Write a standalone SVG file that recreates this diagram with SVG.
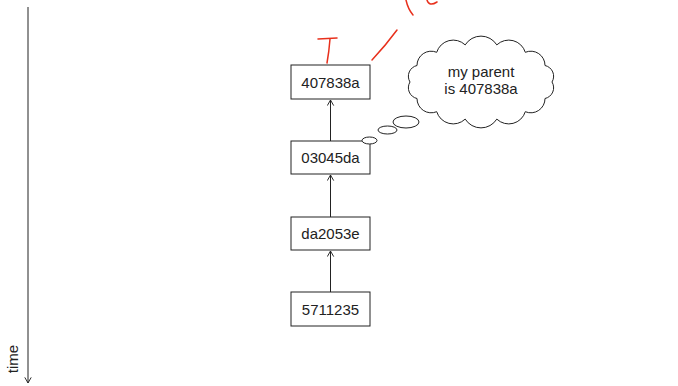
<svg xmlns="http://www.w3.org/2000/svg" width="678" height="386" viewBox="0 0 678 386">
<style>
  .box rect { fill: #fff; stroke: #222; stroke-width: 1; }
  .lbl { font-family: "Liberation Sans", Arial, sans-serif; font-size: 15px; fill: #222; text-anchor: middle; }
  .conn { stroke: #222; stroke-width: 1; fill: none; }
  .red { stroke: #e8301c; stroke-width: 1.5; fill: none; stroke-linecap: round; }
  .thought { fill: #fff; stroke: #222; stroke-width: 1; }
</style>
<defs>
  <marker id="open" viewBox="0 0 10 10" refX="9" refY="5" markerWidth="8" markerHeight="8" markerUnits="userSpaceOnUse" orient="auto">
    <path d="M2,1 L9,5 L2,9" fill="none" stroke="#222" stroke-width="1.2"/>
  </marker>
</defs>
<rect width="678" height="386" fill="#fff"/>

<g id="time-axis">
  <line x1="28" y1="7" x2="28" y2="383" class="conn" stroke="#444" marker-end="url(#open)"/>
  <text class="lbl" transform="translate(18,359) rotate(-90)">time</text>
</g>

<g id="connectors">
  <line x1="330.5" y1="292" x2="330.5" y2="251" class="conn" marker-end="url(#open)"/>
  <line x1="330.5" y1="217" x2="330.5" y2="175" class="conn" marker-end="url(#open)"/>
  <line x1="330.5" y1="141" x2="330.5" y2="100" class="conn" marker-end="url(#open)"/>
</g>

<g id="n407838a" class="box">
  <rect x="291" y="65" width="79" height="34"/>
  <text class="lbl" x="330.5" y="87.5">407838a</text>
</g>
<g id="n03045da" class="box">
  <rect x="291" y="141" width="79" height="33"/>
  <text class="lbl" x="330.5" y="163">03045da</text>
</g>
<g id="nda2053e" class="box">
  <rect x="291" y="217" width="79" height="33"/>
  <text class="lbl" x="330.5" y="239">da2053e</text>
</g>
<g id="n5711235" class="box">
  <rect x="291" y="292" width="79" height="34"/>
  <text class="lbl" x="330.5" y="314.5">5711235</text>
</g>

<g id="thought-bubble">
  <ellipse class="thought" cx="369.5" cy="140.5" rx="7.5" ry="3.5"/>
  <ellipse class="thought" cx="387.5" cy="130" rx="9.5" ry="4"/>
  <ellipse class="thought" cx="406" cy="122" rx="13" ry="6"/>
  <path class="thought" d="M552,82 A11,11 0 0 1 545,98.5 A14.2,14.2 0 0 1 525.3,111.7 A17.3,17.3 0 0 1 496.8,119.1 A18.6,18.6 0 0 1 465.2,119.1 A17.3,17.3 0 0 1 436.7,111.7 A14.2,14.2 0 0 1 417,98.5 A11,11 0 0 1 410,82 A11,11 0 0 1 417,65.5 A14.2,14.2 0 0 1 436.7,52.3 A17.3,17.3 0 0 1 465.2,44.9 A18.6,18.6 0 0 1 496.8,44.9 A17.3,17.3 0 0 1 525.3,52.3 A14.2,14.2 0 0 1 545,65.5 A11,11 0 0 1 552,82 Z"/>
  <text class="lbl" x="481" y="77">my parent</text>
  <text class="lbl" x="481" y="94">is 407838a</text>
</g>

<g id="red-annotations">
  <path class="red" d="M318,39 L337,38"/>
  <path class="red" d="M330,39 Q329,52 327,63"/>
  <path class="red" d="M372,60 Q386,45 397,30"/>
  <path class="red" d="M406,0 Q408,9 413,15"/>
  <path class="red" d="M427,0 Q429,7 437,2"/>
</g>
</svg>
